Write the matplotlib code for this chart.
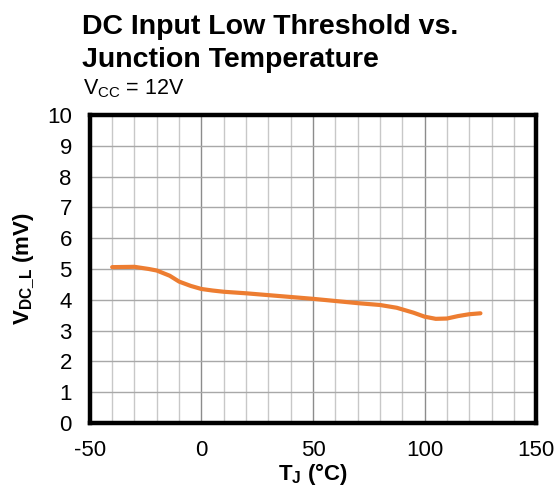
import matplotlib
matplotlib.use("Agg")
import matplotlib.pyplot as plt
import numpy as np

plt.rcParams['font.family'] = ['Liberation Sans', 'DejaVu Sans']
plt.rcParams['mathtext.fontset'] = 'custom'
plt.rcParams['mathtext.rm'] = 'Liberation Sans'
plt.rcParams['mathtext.it'] = 'Liberation Sans:italic'
plt.rcParams['mathtext.bf'] = 'Liberation Sans:bold'
plt.rcParams['axes.unicode_minus'] = False

temp_c = [-40, -30, -23.6, -20, -14.2, -10, -4.8, 0, 5, 10, 20, 30, 40, 50,
          60, 70, 80, 87.5, 95, 100, 105, 110, 115, 120, 125]
vdc_l_mv = [5.06, 5.07, 5.00, 4.95, 4.78, 4.59, 4.45, 4.35, 4.30, 4.26, 4.21, 4.15, 4.09, 4.03,
            3.96, 3.89, 3.83, 3.74, 3.58, 3.45, 3.38, 3.39, 3.47, 3.53, 3.56]
x_ticks = [-50, 0, 50, 100, 150]
y_ticks = list(range(0, 11))

fig = plt.figure(figsize=(5.58, 4.94), dpi=100)
ax = fig.add_axes([0.161, 0.144, 0.800, 0.623])

# grid
for xv in np.arange(-50, 151, 10):
    major = (xv % 50 == 0)
    ax.axvline(xv, color='#8c8c8c' if major else '#c8c8c8', lw=1.0, zorder=1)
for yv in y_ticks:
    ax.axhline(yv, color='#a8a8a8', lw=1.0, zorder=1)

ax.plot(temp_c, vdc_l_mv, color='#ED7D31', lw=3.0, solid_capstyle='round',
        solid_joinstyle='round', zorder=3)

ax.set_xlim(-50, 150)
ax.set_ylim(0, 10)
ax.set_xticks(x_ticks)
ax.set_yticks(y_ticks)
ax.tick_params(length=0, labelsize=16)
ax.tick_params(axis='x', pad=12)
ax.tick_params(axis='y', pad=13)
for s in ax.spines.values():
    s.set_linewidth(3.2)
    s.set_color('black')
    s.set_zorder(5)

ax.set_xlabel(r'T$_\mathbf{J}$ (°C)', fontsize=16, fontweight='bold', labelpad=0)
ax.set_ylabel(r'V$_\mathbf{DC\_L}$ (mV)', fontsize=16, fontweight='bold', labelpad=7)

fig.text(0.147, 0.931, 'DC Input Low Threshold vs.', fontsize=20.5, fontweight='bold', ha='left', va='baseline')
fig.text(0.147, 0.864, 'Junction Temperature', fontsize=20.5, fontweight='bold', ha='left', va='baseline')
fig.text(0.149, 0.808, r'V$_\mathrm{CC}$ = 12V', fontsize=15.5, ha='left', va='baseline')

fig.savefig('out.png', dpi=100)
